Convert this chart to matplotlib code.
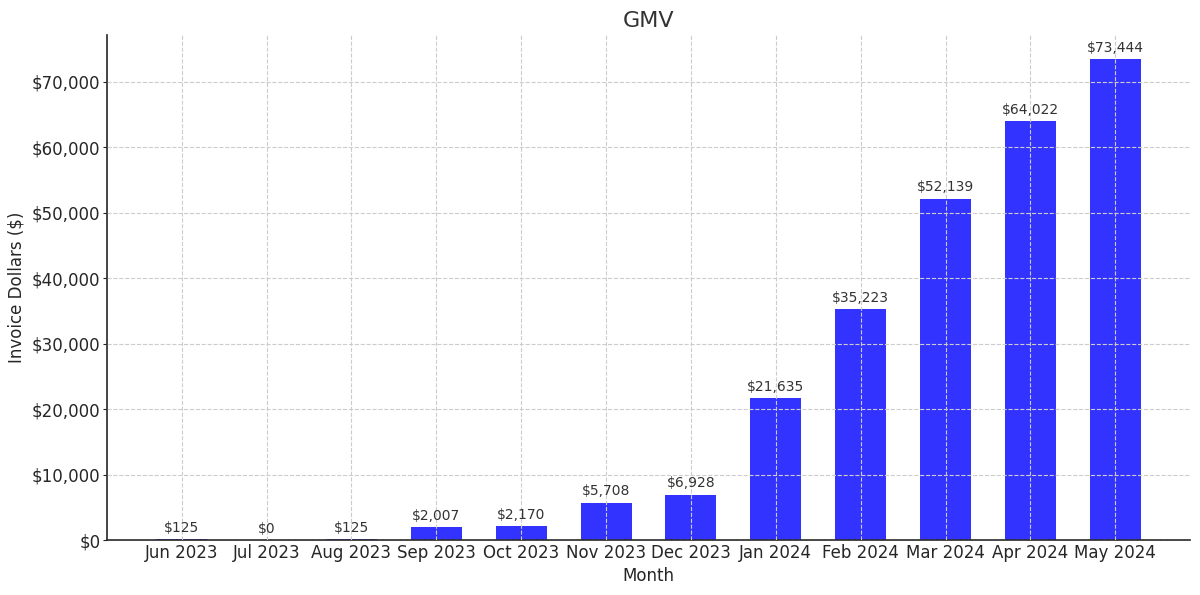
import matplotlib
matplotlib.use("Agg")
import matplotlib.pyplot as plt
from matplotlib.ticker import FuncFormatter

months = ["Jun 2023", "Jul 2023", "Aug 2023", "Sep 2023", "Oct 2023", "Nov 2023",
          "Dec 2023", "Jan 2024", "Feb 2024", "Mar 2024", "Apr 2024", "May 2024"]
gmv = [125, 0, 125, 2007, 2170, 5708, 6928, 21635, 35223, 52139, 64022, 73444]

fig = plt.figure(figsize=(12, 5.95), dpi=100)
ax = fig.add_axes([107/1200, 1 - 540/595, (1190-107)/1200, (540-35)/595])

x = list(range(len(months)))
ax.bar(x, gmv, width=0.6, color="blue", alpha=0.8, zorder=1)
ax.set_xticks(x)
ax.set_xticklabels(months)

ax.grid(True, linestyle="--", color="#cccccc", linewidth=0.8, zorder=3)
ax.set_axisbelow(False)

ax.yaxis.set_major_formatter(FuncFormatter(lambda v, p: f"${v:,.0f}"))
ax.tick_params(axis="both", labelsize=12, colors="#262626")
ax.tick_params(axis="y", length=3, pad=1.8)
ax.tick_params(axis="x", length=0, pad=3)
for s in ["top", "right"]:
    ax.spines[s].set_visible(False)
for s in ["left", "bottom"]:
    ax.spines[s].set_linewidth(1.2)
    ax.spines[s].set_color("#262626")

for xi, v in zip(x, gmv):
    ax.annotate(f"${v:,}", (xi, v), xytext=(0, 3), textcoords="offset points",
                ha="center", va="bottom", fontsize=10, color="#333333")

ax.set_title("GMV", fontsize=16, color="#333333", pad=6)
ax.set_xlabel("Month", fontsize=12, color="#262626")
ax.set_ylabel("Invoice Dollars ($)", fontsize=12, color="#262626")
ax.xaxis.set_label_coords(0.5, -(567 - 540) / 505)
ax.yaxis.set_label_coords(-(107 - 26) / 1083, 0.5)

fig.savefig("out.png", dpi=100)
